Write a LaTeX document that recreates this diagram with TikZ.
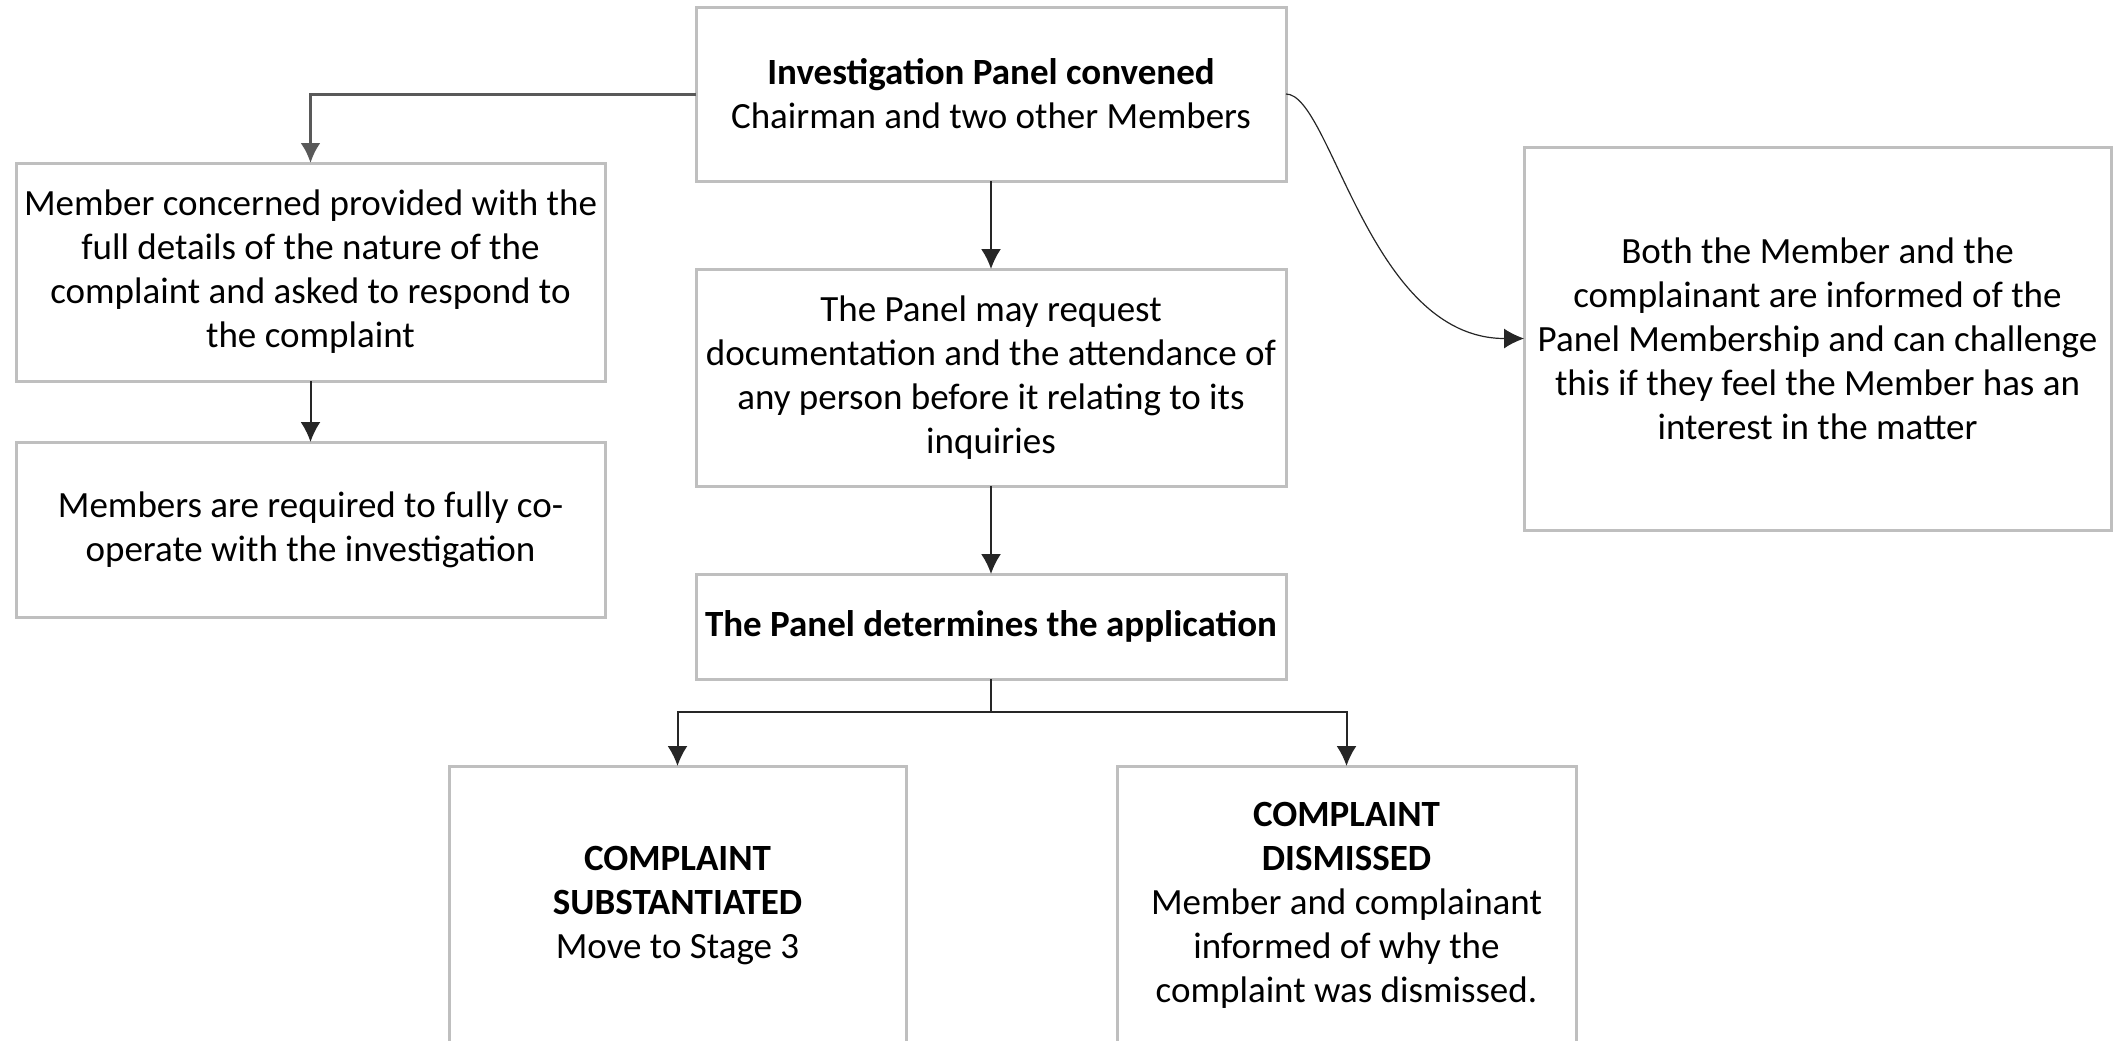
\documentclass[tikz,border=0pt]{standalone}
\usepackage{fontspec}
\setmainfont{Carlito}
\usetikzlibrary{arrows.meta,positioning}

\begin{document}
\begin{tikzpicture}[x=0.5pt,y=-0.5pt,
  box/.style={draw=black!25,line width=1.5pt,align=center,inner sep=0pt,outer sep=0pt,
    font=\fontsize{18.5pt}{22pt}\selectfont},
  flow/.style={draw=black!85,line width=1pt,-{Latex[length=10pt,width=10pt]}}]
\useasboundingbox (0,0) rectangle (2113,1040);
\clip (0,0) rectangle (2113,1040);
% middle column
\node[box,minimum width=295pt,minimum height=87pt] (panel) at (991,94)
  {\textbf{Investigation Panel convened}\\Chairman and two other Members};
\node[box,minimum width=295pt,minimum height=108.5pt,below=44pt of panel] (mid)
  {The Panel may request\\documentation and the attendance of\\any person before it relating to its\\inquiries};
\node[box,minimum width=295pt,minimum height=52.5pt,below=44pt of mid] (det)
  {\textbf{The Panel determines the application}};
% left column
\node[box,minimum width=294.5pt,minimum height=109pt] (left1) at (310.5,272)
  {Member concerned provided with the\\full details of the nature of the\\complaint and asked to respond to\\the complaint};
\node[box,minimum width=294.5pt,minimum height=87.5pt,below=30.5pt of left1] (left2)
  {Members are required to fully co-\\operate with the investigation};
% right
\node[box,minimum width=293.5pt,minimum height=191.5pt] (right) at (1817.5,338.5)
  {Both the Member and the\\complainant are informed of the\\Panel Membership and can challenge\\this if they feel the Member has an\\interest in the matter};
% outcomes
\node[box,minimum width=228.5pt,minimum height=139.5pt] (subst) at (677.5,905.5)
  {\textbf{COMPLAINT}\\\textbf{SUBSTANTIATED}\\Move to Stage 3};
\node[box,minimum width=229.5pt,minimum height=139.5pt] (dism) at (1346.5,905.5)
  {\textbf{COMPLAINT}\\\textbf{DISMISSED}\\Member and complainant\\informed of why the\\complaint was dismissed.};
\coordinate (split) at (991,712);

\draw[flow,draw=black!65,line width=1.5pt] (panel.west) -| (left1.north);
\draw[flow] (left1) -- (left2);
\draw[flow] (panel) -- (mid);
\draw[flow] (mid) -- (det);
\draw[draw=black!85,line width=1pt] (det) -- (split);
\draw[flow] (split) -| (subst.north);
\draw[flow] (split) -| (dism.north);
\draw[flow,line width=0.6pt] (panel.east) .. controls +(45,0) and +(-155,0) .. (right.west);
\end{tikzpicture}
\end{document}
